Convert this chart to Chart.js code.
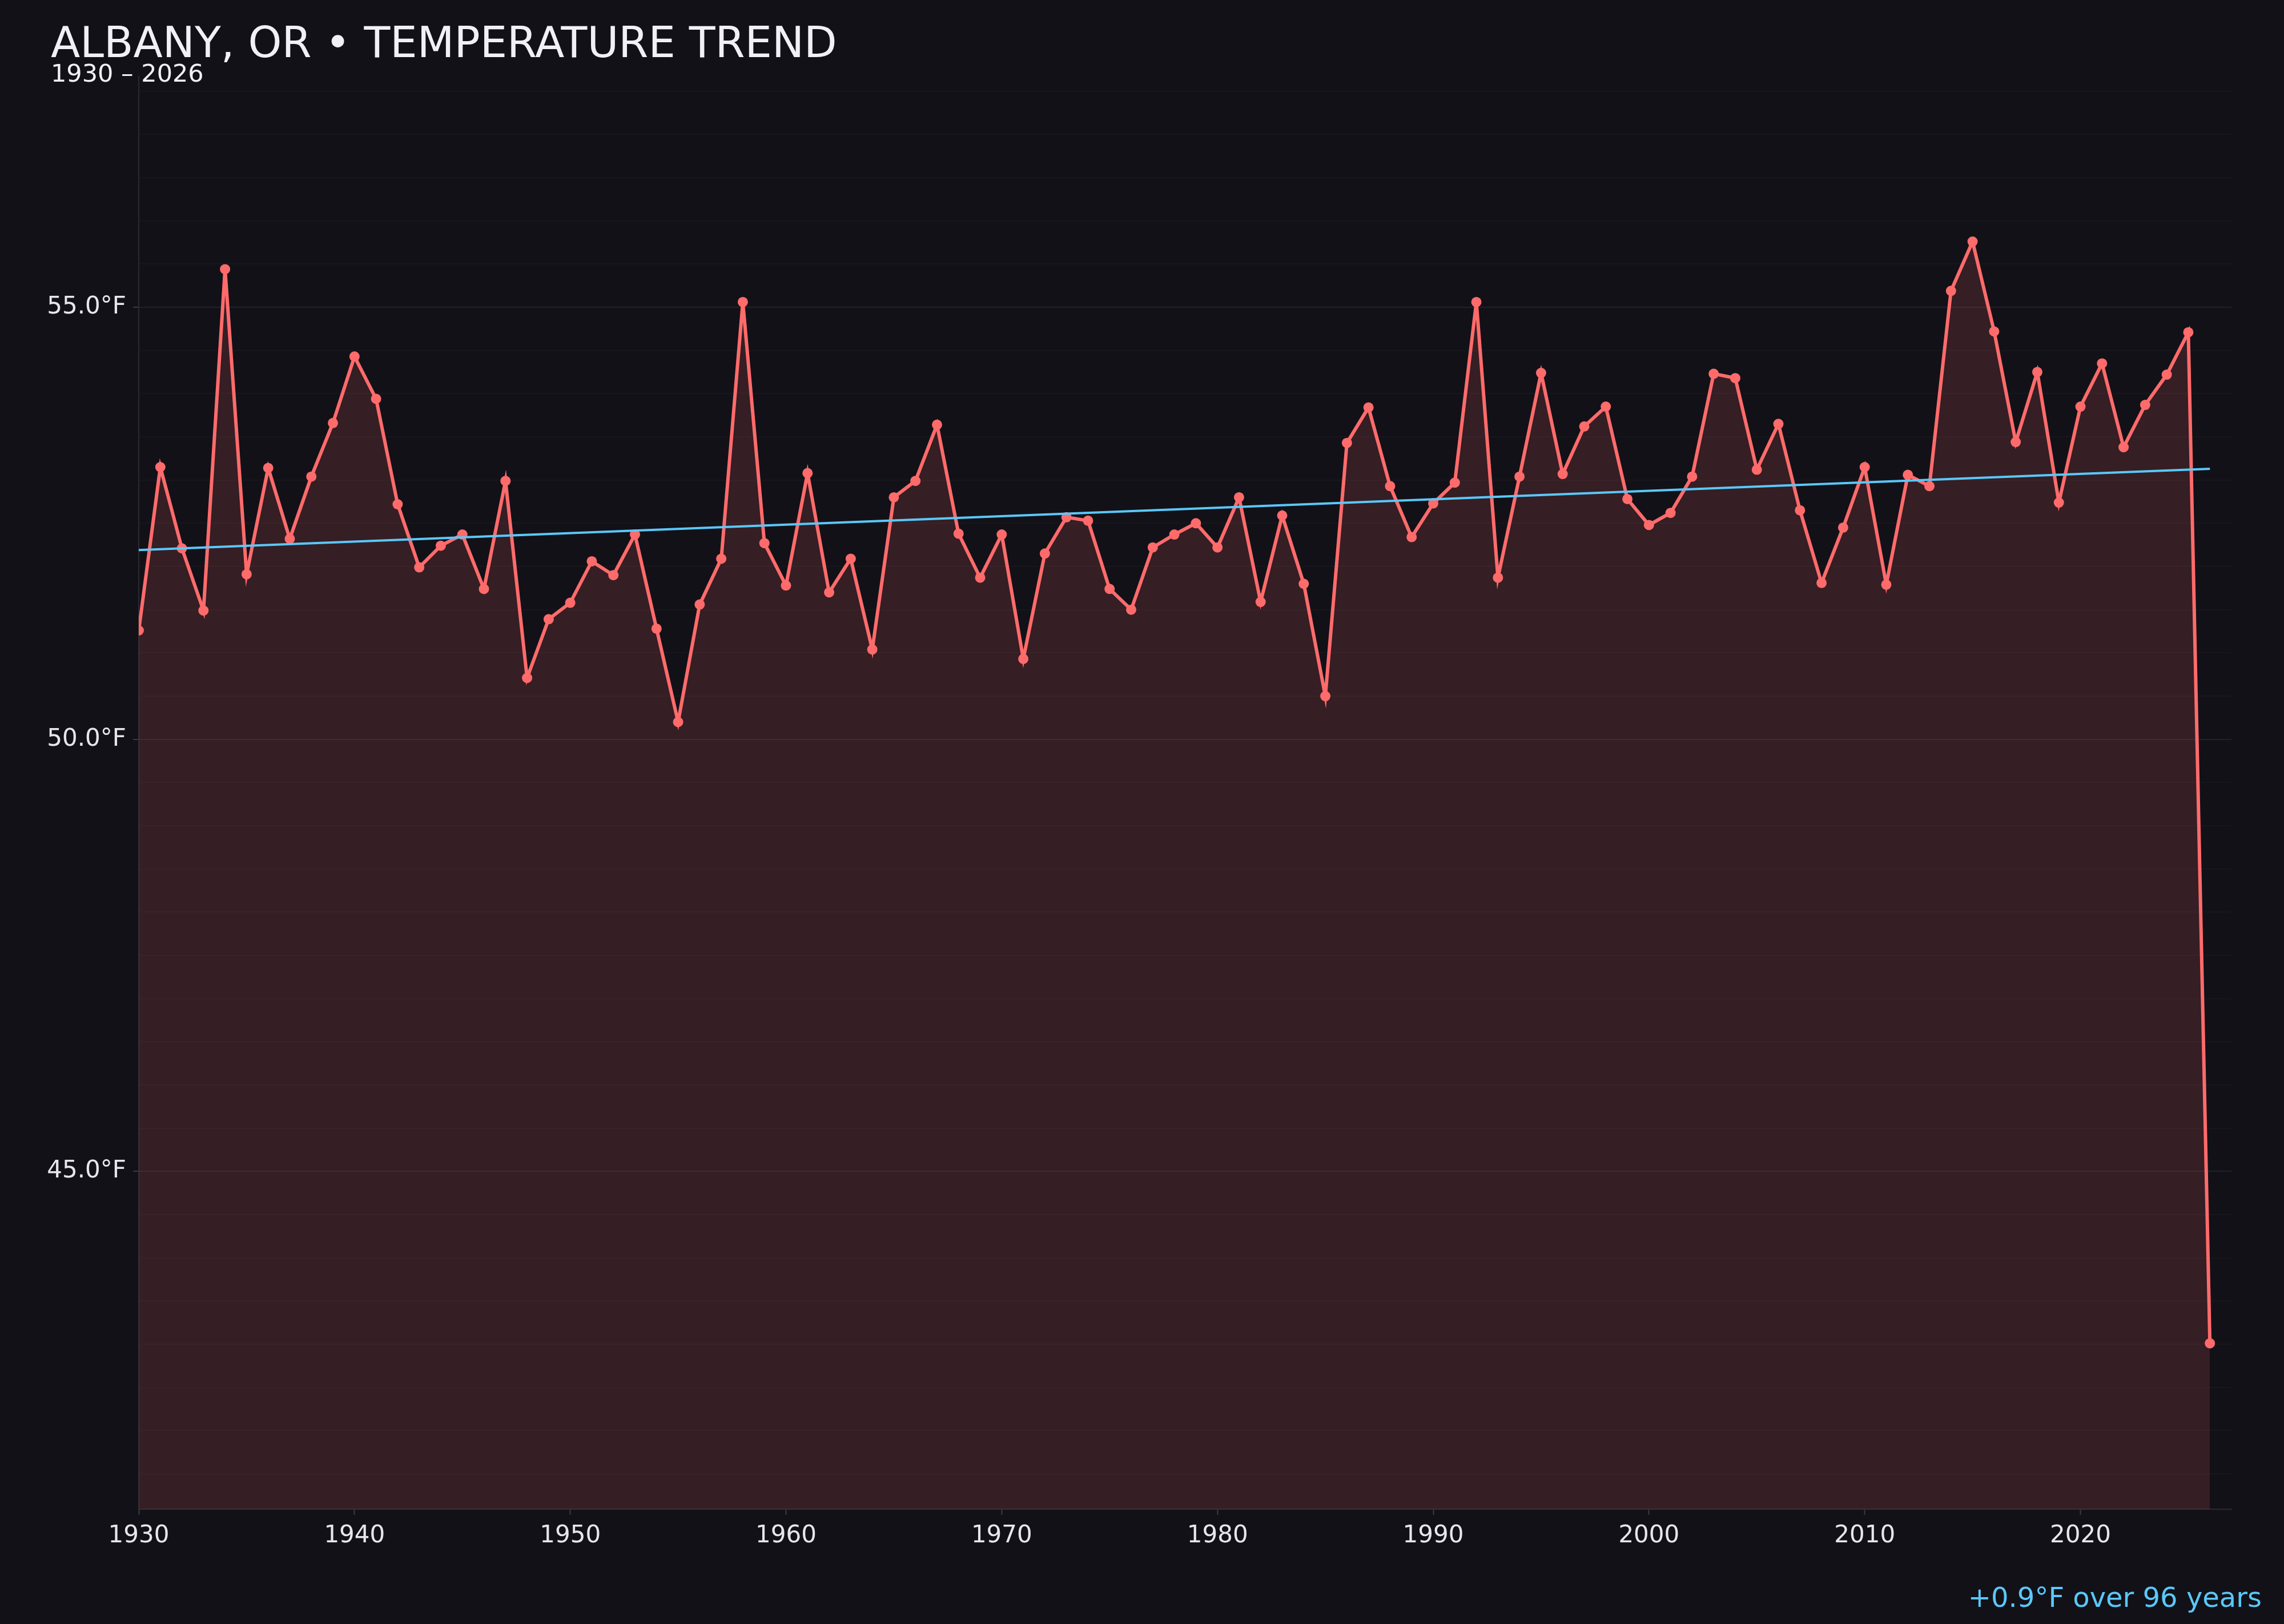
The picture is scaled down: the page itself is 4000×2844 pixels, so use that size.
<!DOCTYPE html>
<html>
<head>
<meta charset="utf-8">
<title>Albany, OR temperature trend</title>
<script src="https://cdn.jsdelivr.net/npm/chart.js@4/dist/chart.umd.min.js"></script>
<style>
  html, body { margin: 0; padding: 0; background: #121118; overflow: hidden; }
  #wrap { position: relative; width: 4000px; height: 2844px; }
  #chart { position: absolute; left: 0; top: 0; }
  .txt { position: absolute; font-family: 'DejaVu Sans', sans-serif; line-height: 1; white-space: nowrap; }
  #title { left: 89px; top: 37px; font-size: 75px; color: #f2f0f7; }
  #subtitle { left: 89px; top: 107px; font-size: 43px; color: #f2f0f7; }
  #note { right: 39px; top: 2773px; font-size: 48px; color: #5ac8fa; }
</style>
</head>
<body>
<div id="wrap">
  <canvas id="chart" width="4000" height="2844"></canvas>
  <div class="txt" id="title">ALBANY, OR • TEMPERATURE TREND</div>
  <div class="txt" id="subtitle">1930 – 2026</div>
  <div class="txt" id="note">+0.9°F over 96 years</div>
</div>
<script>
/* ── DATA (annual mean °F) ── */
const years = [
  1930, 1931, 1932, 1933, 1934, 1935, 1936, 1937, 1938, 1939,
  1940, 1941, 1942, 1943, 1944, 1945, 1946, 1947, 1948, 1949,
  1950, 1951, 1952, 1953, 1954, 1955, 1956, 1957, 1958, 1959,
  1960, 1961, 1962, 1963, 1964, 1965, 1966, 1967, 1968, 1969,
  1970, 1971, 1972, 1973, 1974, 1975, 1976, 1977, 1978, 1979,
  1980, 1981, 1982, 1983, 1984, 1985, 1986, 1987, 1988, 1989,
  1990, 1991, 1992, 1993, 1994, 1995, 1996, 1997, 1998, 1999,
  2000, 2001, 2002, 2003, 2004, 2005, 2006, 2007, 2008, 2009,
  2010, 2011, 2012, 2013, 2014, 2015, 2016, 2017, 2018, 2019,
  2020, 2021, 2022, 2023, 2024, 2025, 2026
];
const temps = [
  51.26, 53.15, 52.21, 51.49, 55.44, 51.91, 53.14, 52.32, 53.04, 53.66,
  54.43, 53.94, 52.72, 51.99, 52.24, 52.37, 51.74, 52.99, 50.71, 51.39,
  51.58, 52.06, 51.90, 52.37, 51.28, 50.20, 51.56, 52.09, 55.06, 52.27,
  51.78, 53.08, 51.70, 52.09, 51.04, 52.80, 52.99, 53.64, 52.38, 51.87,
  52.37, 50.93, 52.15, 52.57, 52.53, 51.74, 51.50, 52.22, 52.37, 52.50,
  52.22, 52.80, 51.59, 52.59, 51.80, 50.50, 53.43, 53.84, 52.93, 52.34,
  52.73, 52.97, 55.06, 51.87, 53.04, 54.24, 53.07, 53.62, 53.85, 52.78,
  52.48, 52.62, 53.04, 54.23, 54.18, 53.12, 53.65, 52.65, 51.81, 52.45,
  53.15, 51.79, 53.06, 52.93, 55.19, 55.76, 54.72, 53.44, 54.25, 52.74,
  53.85, 54.35, 53.38, 53.87, 54.22, 54.71, 43.01
];
const trendYears  = [1930, 2026];
const trendValues = [52.19, 53.13];

/* ── STYLE ── */
const FONT = "'DejaVu Sans', sans-serif";
const tickColor = '#e6e6ec';
const axisColor = '#2a2a33';
const tickFont = { family: FONT, size: 42 };

const isMajor = c => c.tick && Math.abs(c.tick.value % 5) < 1e-6;

new Chart(document.getElementById('chart'), {
  type: 'line',
  data: {
    datasets: [
      {
        // trend line, drawn on top
        data: trendYears.map((y, i) => ({ x: y, y: trendValues[i] })),
        borderColor: '#5ac8fa',
        borderWidth: 4,
        pointRadius: 0,
        fill: false,
        order: 0,
      },
      {
        data: years.map((y, i) => ({ x: y, y: temps[i] })),
        borderColor: '#ff6b6b',
        borderWidth: 6,
        backgroundColor: 'rgba(255,107,107,0.15)',
        fill: 'start',
        tension: 0,
        pointRadius: 9,
        pointBorderWidth: 0,
        pointBackgroundColor: '#ff6b6b',
        order: 1,
      }
    ]
  },
  options: {
    responsive: false,
    devicePixelRatio: 1,
    animation: false,
    layout: { padding: { top: 134, right: 92, left: 0, bottom: 0 } },
    plugins: { legend: { display: false }, tooltip: { enabled: false } },
    scales: {
      x: {
        type: 'linear',
        min: 1930, max: 2027,
        afterFit: s => { s.height = 201; },
        border: { color: axisColor, width: 2 },
        grid: { drawOnChartArea: false, drawTicks: true, tickLength: 10, tickColor: '#3a3a44', tickWidth: 2 },
        ticks: {
          stepSize: 10, includeBounds: false, color: tickColor, font: tickFont, padding: 12,
          maxRotation: 0, autoSkip: false,
          callback: v => String(v)
        }
      },
      y: {
        type: 'linear',
        min: 41.09, max: 57.67,
        afterFit: s => { s.width = 243; },
        border: { color: axisColor, width: 2 },
        grid: {
          color: c => isMajor(c) ? '#222129' : '#17161d',
          lineWidth: 2,
          tickLength: 10,
          tickColor: c => isMajor(c) ? '#3a3a44' : 'rgba(0,0,0,0)',
          tickWidth: 2,
        },
        ticks: {
          stepSize: 0.5, includeBounds: false, color: tickColor, font: tickFont, padding: 12,
          autoSkip: false,
          callback: v => Math.abs(v % 5) < 1e-6 ? v.toFixed(1) + '°F' : ''
        }
      }
    }
  }
});
</script>
</body>
</html>
